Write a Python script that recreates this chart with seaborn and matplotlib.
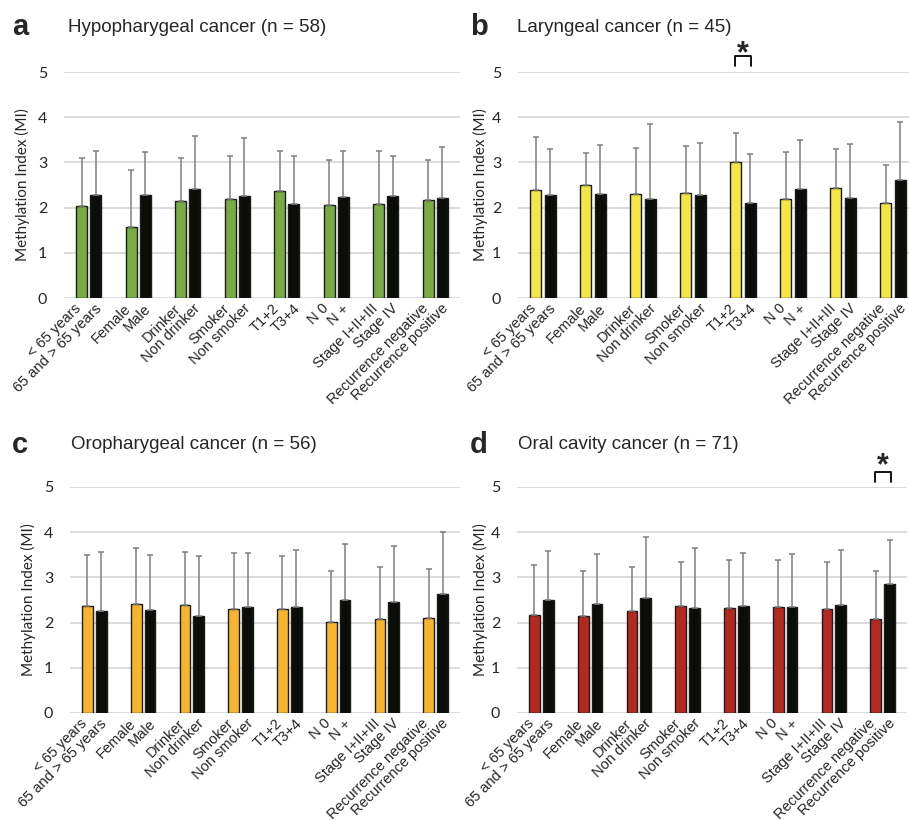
import matplotlib
matplotlib.use('Agg')
import matplotlib.pyplot as plt
import seaborn as sns
import pandas as pd

sns.set_style('white')
plt.rcParams['font.family'] = ['Liberation Sans', 'DejaVu Sans']

# ---------------- data ----------------
groups = ['Age', 'Sex', 'Alcohol', 'Smoking', 'T', 'N', 'Stage', 'Recurrence']
labels_first = ['< 65 years', 'Female', 'Drinker', 'Smoker', 'T1+2', 'N 0',
                'Stage I+II+III', 'Recurrence negative']
labels_second = ['65 and > 65 years', 'Male', 'Non drinker', 'Non smoker', 'T3+4', 'N +',
                 'Stage IV', 'Recurrence positive']

hypo_mean_1 = [2.04, 1.57, 2.14, 2.19, 2.36, 2.05, 2.09, 2.16]
hypo_sd_1 = [1.05, 1.27, 0.95, 0.95, 0.90, 1.01, 1.16, 0.90]
hypo_mean_2 = [2.28, 2.28, 2.42, 2.25, 2.09, 2.23, 2.26, 2.22]
hypo_sd_2 = [0.97, 0.94, 1.17, 1.29, 1.05, 1.02, 0.88, 1.13]

lar_mean_1 = [2.38, 2.49, 2.31, 2.33, 3.00, 2.19, 2.44, 2.11]
lar_sd_1 = [1.19, 0.71, 1.01, 1.04, 0.66, 1.03, 0.85, 0.84]
lar_mean_2 = [2.28, 2.30, 2.19, 2.28, 2.11, 2.42, 2.22, 2.61]
lar_sd_2 = [1.01, 1.08, 1.65, 1.14, 1.08, 1.08, 1.19, 1.29]

oro_mean_1 = [2.37, 2.41, 2.40, 2.29, 2.29, 2.01, 2.09, 2.11]
oro_sd_1 = [1.13, 1.24, 1.17, 1.25, 1.18, 1.13, 1.15, 1.08]
oro_mean_2 = [2.26, 2.28, 2.15, 2.35, 2.34, 2.50, 2.45, 2.63]
oro_sd_2 = [1.31, 1.22, 1.32, 1.18, 1.27, 1.23, 1.24, 1.38]

oral_mean_1 = [2.17, 2.14, 2.26, 2.36, 2.32, 2.35, 2.31, 2.07]
oral_sd_1 = [1.11, 1.01, 0.98, 0.97, 1.07, 1.04, 1.02, 1.07]
oral_mean_2 = [2.51, 2.41, 2.54, 2.33, 2.37, 2.35, 2.40, 2.85]
oral_sd_2 = [1.07, 1.11, 1.35, 1.32, 1.18, 1.17, 1.20, 0.97]

panel_letters = ['a', 'b', 'c', 'd']
panel_titles = ['Hypopharygeal cancer (n = 58)', 'Laryngeal cancer (n = 45)',
                'Oropharygeal cancer (n = 56)', 'Oral cavity cancer (n = 71)']
panel_colors = ['#78AB43', '#F4E644', '#F7B52F', '#B3281F']
significant_group = [None, 'T', None, 'Recurrence']

panel_data = [
    (hypo_mean_1, hypo_sd_1, hypo_mean_2, hypo_sd_2),
    (lar_mean_1, lar_sd_1, lar_mean_2, lar_sd_2),
    (oro_mean_1, oro_sd_1, oro_mean_2, oro_sd_2),
    (oral_mean_1, oral_sd_1, oral_mean_2, oral_sd_2),
]

# ---------------- layout (figure pixels) ----------------
W, H = 909, 827
fig = plt.figure(figsize=(W / 100, H / 100), dpi=100)

# left, top(y of value 5), right, bottom(y of value 0), xmax
axes_px = [
    (64, 72, 460, 298, 7.5),
    (518, 72, 909, 298, 7.32),
    (70, 487, 460, 713, 7.5),
    (517, 487, 907, 713, 7.5),
]
letter_px = [(12, 27), (470, 27), (12, 445), (470, 445)]
title_px = [(68, 27), (517, 27), (71, 445), (518, 445)]
ylabel_px = [22, 480, 28, 480]
bracket_y = [None, (5.13, 5.35, 5.40), None, (5.11, 5.33, 5.47)]
label_shift = (-0.05, 0.07)   # shift of label anchors from bar centres

BLACK = '#0B0E08'

for i in range(4):
    l, t, r, b, xmax = axes_px[i]
    ax = fig.add_axes([l / W, 1 - b / H, (r - l) / W, (b - t) / H])
    m1, s1, m2, s2 = panel_data[i]
    df = pd.DataFrame({
        'group': groups * 2,
        'series': ['first'] * 8 + ['second'] * 8,
        'value': list(m1) + list(m2),
    })
    sns.barplot(data=df, x='group', y='value', hue='series', order=groups,
                hue_order=['first', 'second'],
                palette={'first': panel_colors[i], 'second': BLACK},
                saturation=1, width=0.57, gap=0.22, errorbar=None,
                edgecolor='#1C1C1C', linewidth=1.0, legend=False, ax=ax, zorder=2)

    centers = []
    names = []
    for cont, sds, labs in zip(ax.containers, [s1, s2], [labels_first, labels_second]):
        xs = [p.get_x() + p.get_width() / 2 for p in cont]
        hs = [p.get_height() for p in cont]
        ax.errorbar(xs, hs, yerr=[[0] * len(sds), sds], fmt='none', ecolor='#7F7F7F',
                    elinewidth=1.1, capsize=2.5, capthick=1.1, zorder=3)
        centers.append(xs)
        names.append(labs)
    tick_pos, tick_lab = [], []
    for k in range(8):
        tick_pos += [centers[0][k] + label_shift[0], centers[1][k] + label_shift[1]]
        tick_lab += [names[0][k], names[1][k]]
    ax.set_xticks(tick_pos)
    ax.set_xticklabels(tick_lab, rotation=45, ha='right', va='center',
                       rotation_mode='anchor', fontsize=10.5)

    ax.set_xlim(-0.5, xmax)
    ax.set_ylim(0, 5)
    ax.set_yticks(range(6))
    ax.set_yticklabels([str(v) for v in range(6)], fontfamily='Lato', fontsize=11.5)
    ax.tick_params(axis='both', length=0)
    ax.tick_params(axis='y', pad=12)
    ax.tick_params(axis='x', pad=6)
    ax.yaxis.grid(True, color='#D9D9D9', linewidth=1.3)
    ax.set_axisbelow(True)
    for sp in ax.spines.values():
        sp.set_visible(False)
    ax.set_xlabel('')
    ax.set_ylabel('')

    # significance bracket
    if significant_group[i] is not None:
        k = groups.index(significant_group[i])
        x1 = centers[0][k] - 0.02
        x2 = centers[1][k] + 0.02
        y0, y1, ya = bracket_y[i]
        ax.plot([x1, x1, x2, x2], [y0, y1, y1, y0], color='black', lw=1.3,
                clip_on=False, zorder=4)
        ax.text((x1 + x2) / 2, ya, '*', fontsize=22, fontweight='bold', ha='center',
                va='center', clip_on=False)

    fig.text(letter_px[i][0] / W, 1 - letter_px[i][1] / H, panel_letters[i],
             fontsize=21, fontweight='bold', ha='left', va='center')
    fig.text(title_px[i][0] / W, 1 - title_px[i][1] / H, panel_titles[i],
             fontsize=13.5, ha='left', va='center')
    fig.text(ylabel_px[i] / W, 1 - ((t + b) / 2) / H, 'Methylation Index (MI)',
             rotation=90, fontsize=11, fontfamily='Lato', ha='center', va='center')

fig.savefig('out.png', dpi=100)
